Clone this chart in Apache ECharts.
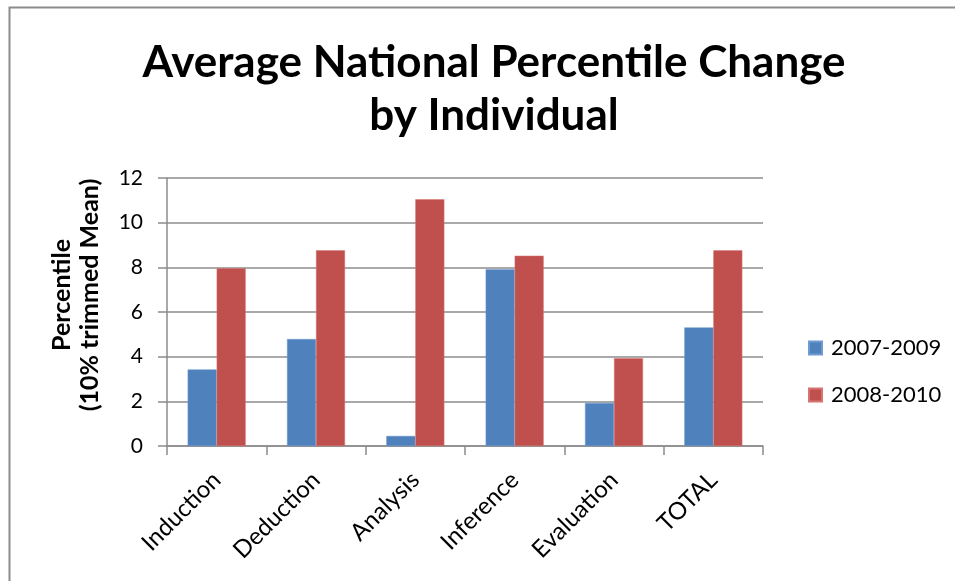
<html>
<head>
<meta http-equiv="Content-Type" content="text/html; charset=utf-8" />
<style type="text/css">
body {margin: 0; background-color: white}
</style>
</head>
<body>
<div id="main" style="width:955px;height:581px;"></div>
</body>
<script src="https://cdn.jsdelivr.net/npm/echarts@6/dist/echarts.min.js"></script>
<script type="text/javascript">

var categories = ['Induction', 'Deduction', 'Analysis', 'Inference', 'Evaluation', 'TOTAL'];
var seriesNames = ['2007-2009', '2008-2010'];
var values0709 = [3.43, 4.79, 0.45, 7.91, 1.93, 5.31];
var values0810 = [7.96, 8.76, 11.05, 8.52, 3.93, 8.76];

var myChart = echarts.init(document.getElementById('main'));
var fontName = 'Lato, "Open Sans", sans-serif';

option = {
    animation: false,
    title: {
        text: 'Average National Percentile Change\nby Individual',
        left: 489,
        textAlign: 'center',
        top: 31,
        textStyle: {
            fontFamily: fontName,
            fontWeight: 'bold',
            fontSize: 44,
            lineHeight: 53,
            color: '#000'
        }
    },
    graphic: [{
        type: 'rect',
        shape: { x: 9.5, y: 7.5, width: 960, height: 600 },
        style: { fill: 'none', stroke: '#8c8c8c', lineWidth: 2 }
    }],
    legend: {
        orient: 'vertical',
        left: 803,
        top: 332,
        itemWidth: 13,
        itemHeight: 13,
        itemGap: 25,
        icon: 'rect',
        textStyle: { fontFamily: fontName, fontSize: 22, color: '#000', padding: [0, 0, 0, 4] },
        data: seriesNames
    },
    grid: { left: 167, right: 192, top: 178, bottom: 135 },
    xAxis: {
        type: 'category',
        data: categories,
        axisLine: { lineStyle: { color: '#8c8c8c', width: 1.5 } },
        axisTick: { show: true, length: 9, lineStyle: { color: '#8c8c8c', width: 1.5 } },
        axisLabel: {
            rotate: 45,
            margin: 30,
            fontFamily: fontName,
            fontSize: 24,
            color: '#000'
        }
    },
    yAxis: {
        type: 'value',
        min: 0,
        max: 12,
        interval: 2,
        name: 'Percentile\n(10% trimmed Mean)',
        nameLocation: 'middle',
        nameGap: 63,
        nameTextStyle: {
            fontFamily: fontName,
            fontWeight: 'bold',
            fontSize: 25,
            lineHeight: 28,
            padding: [0, 0, 0, 34],
            color: '#000'
        },
        axisLine: { show: true, lineStyle: { color: '#8c8c8c', width: 1.5 } },
        axisTick: { show: true, length: 9, lineStyle: { color: '#8c8c8c', width: 1.5 } },
        splitLine: { lineStyle: { color: '#8c8c8c', width: 1.5 } },
        axisLabel: {
            margin: 24,
            fontFamily: fontName,
            fontSize: 21,
            color: '#000'
        }
    },
    series: [{
        name: seriesNames[0],
        type: 'bar',
        data: values0709,
        barWidth: 29,
        barGap: '0%',
        itemStyle: { color: '#4F81BD', borderColor: '#6f9bd1', borderWidth: 0.5 }
    }, {
        name: seriesNames[1],
        type: 'bar',
        data: values0810,
        barWidth: 29,
        barGap: '0%',
        itemStyle: { color: '#C0504D', borderColor: '#d67471', borderWidth: 0.5 }
    }]
};

myChart.setOption(option);
</script>
</html>
